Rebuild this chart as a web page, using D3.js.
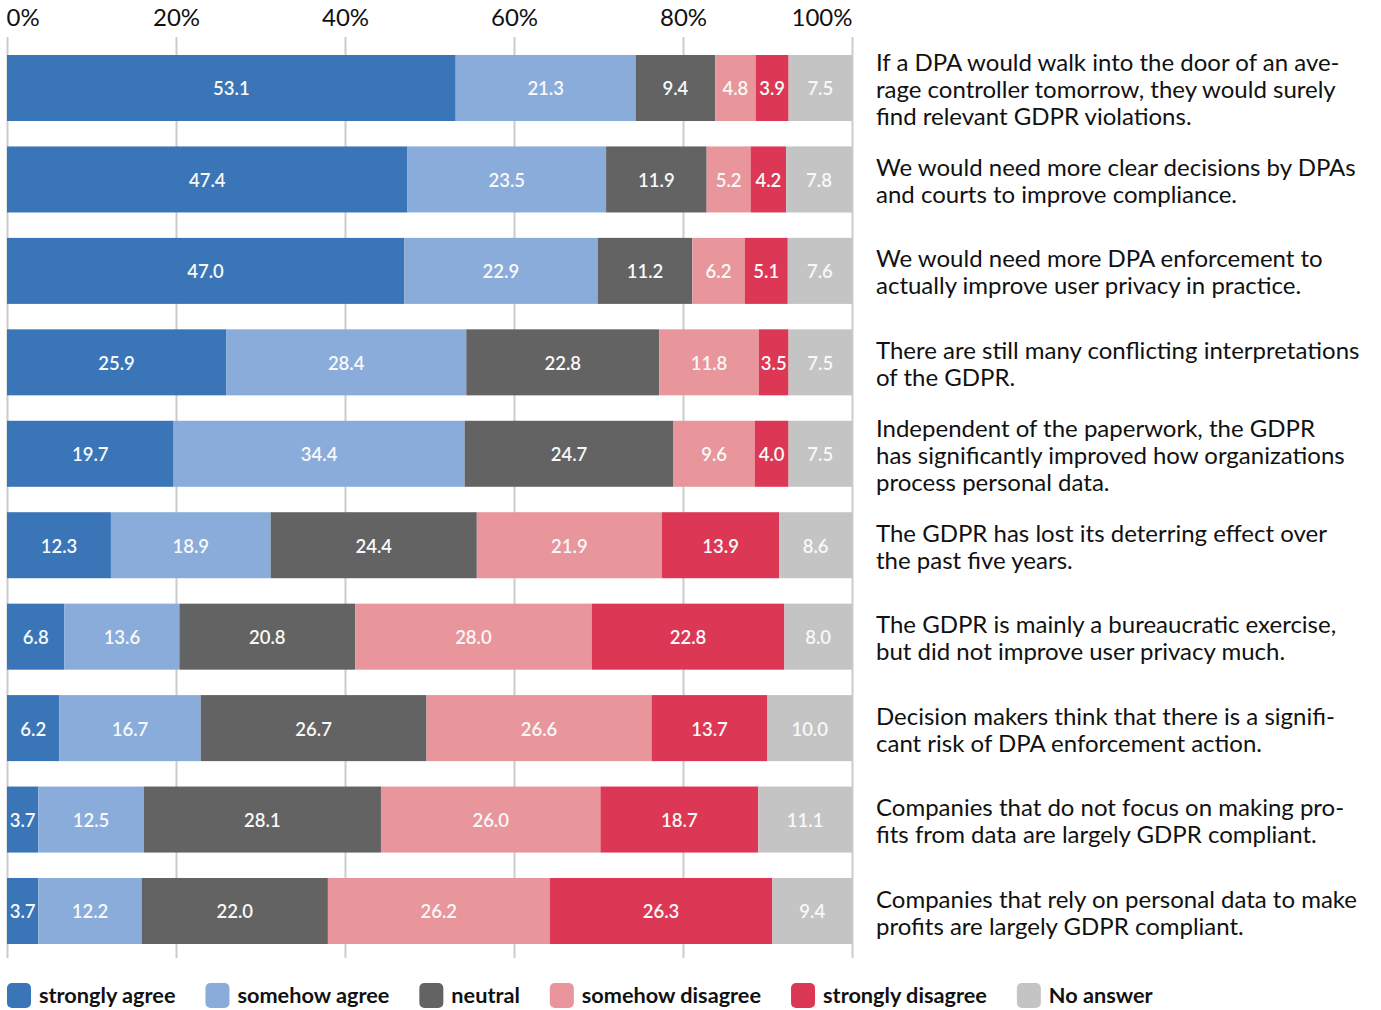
<!DOCTYPE html>
<html>
<head>
<meta charset="utf-8">
<script src="https://cdn.jsdelivr.net/npm/d3@7"></script>
<style>
  body { margin: 0; background: #fff; }
  svg { display: block; font-family: Lato, "Open Sans", sans-serif; }
</style>
</head>
<body>
<div id="chart"></div>
<script>
'use strict';

// statements, already hyphenated / broken as in the original
var statements = [
	['If a DPA would walk into the door of an ave-', 'rage controller tomorrow, they would surely', 'find relevant GDPR violations.'],
	['We would need more clear decisions by DPAs', 'and courts to improve compliance.'],
	['We would need more DPA enforcement to', 'actually improve user privacy in practice.'],
	['There are still many conflicting interpretations', 'of the GDPR.'],
	['Independent of the paperwork, the GDPR', 'has significantly improved how organizations', 'process personal data.'],
	['The GDPR has lost its deterring effect over', 'the past five years.'],
	['The GDPR is mainly a bureaucratic exercise,', 'but did not improve user privacy much.'],
	['Decision makers think that there is a signifi-', 'cant risk of DPA enforcement action.'],
	['Companies that do not focus on making pro-', 'fits from data are largely GDPR compliant.'],
	['Companies that rely on personal data to make', 'profits are largely GDPR compliant.']
];

var categories = ['strongly agree', 'somehow agree', 'neutral', 'somehow disagree', 'strongly disagree', 'No answer'];

var stronglyAgree    = [53.1, 47.4, 47.0, 25.9, 19.7, 12.3, 6.8, 6.2, 3.7, 3.7];
var somehowAgree     = [21.3, 23.5, 22.9, 28.4, 34.4, 18.9, 13.6, 16.7, 12.5, 12.2];
var neutral          = [9.4, 11.9, 11.2, 22.8, 24.7, 24.4, 20.8, 26.7, 28.1, 22.0];
var somehowDisagree  = [4.8, 5.2, 6.2, 11.8, 9.6, 21.9, 28.0, 26.6, 26.0, 26.2];
var stronglyDisagree = [3.9, 4.2, 5.1, 3.5, 4.0, 13.9, 22.8, 13.7, 18.7, 26.3];
var noAnswer         = [7.5, 7.8, 7.6, 7.5, 7.5, 8.6, 8.0, 10.0, 11.1, 9.4];

var tickValues = [0, 0.2, 0.4, 0.6, 0.8, 1];

var colors = ['#3a75b8', '#8aacdb', '#636363', '#e8969b', '#dc3855', '#c4c4c4'];

var series = [stronglyAgree, somehowAgree, neutral, somehowDisagree, stronglyDisagree, noAnswer];

var rows = statements.map(function(s, i){
	var r = { idx: i };
	categories.forEach(function(c, j){ r[c] = series[j][i]; });
	return r;
});

var width = 1381, height = 1010;
var margin = {left: 7, right: 529, top: 55, bottom: 66};

var x = d3.scaleLinear().domain([0, 1]).range([margin.left, width - margin.right]);
var y = d3.scaleBand()
	.domain(d3.range(rows.length))
	.range([margin.top, height - margin.bottom])
	.paddingInner(0.278)
	.paddingOuter(0);

var color = d3.scaleOrdinal().domain(categories).range(colors);

var stack = d3.stack().keys(categories).offset(d3.stackOffsetExpand);
var stacked = stack(rows);

var svg = d3.select('#chart').append('svg')
	.attr('width', width)
	.attr('height', height);

// grid lines + top labels
var axis = d3.axisTop(x)
	.tickValues(tickValues)
	.tickFormat(d3.format('.0%'))
	.tickSize(-(958 - 37))
	.tickPadding(11);

var gAxis = svg.append('g')
	.attr('transform', 'translate(0,37)')
	.call(axis);
gAxis.select('.domain').remove();
gAxis.selectAll('.tick line')
	.attr('stroke', '#cccccc')
	.attr('stroke-width', 2);
gAxis.selectAll('.tick text')
	.attr('fill', '#111')
	.style('font-size', '24px')
	.style('font-family', 'Lato')
	.attr('text-anchor', function(d){ return d === 0 ? 'start' : (d === 1 ? 'end' : 'middle'); })
	.attr('dx', function(d){ return d === 0 ? -1 : 0; });

// bars
var layer = svg.append('g').selectAll('g.layer')
	.data(stacked)
	.join('g')
		.attr('class', 'layer')
		.attr('fill', function(d){ return color(d.key); });

layer.selectAll('rect')
	.data(function(d){ return d; })
	.join('rect')
		.attr('x', function(d){ return x(d[0]); })
		.attr('y', function(d){ return y(d.data.idx); })
		.attr('width', function(d){ return x(d[1]) - x(d[0]); })
		.attr('height', y.bandwidth());

layer.selectAll('text')
	.data(function(d){ return d.map(function(v){ v.key = d.key; return v; }); })
	.join('text')
		.attr('x', function(d){ return (x(d[0]) + x(d[1]))/2; })
		.attr('y', function(d){ return y(d.data.idx) + y.bandwidth()/2; })
		.attr('dy', '0.4em')
		.attr('text-anchor', 'middle')
		.attr('fill', '#f8f8f8')
		.style('font-size', '18.5px')
		.style('font-weight', 600)
		.text(function(d){ return d.data[d.key].toFixed(1); });

// statements on the right
var lh = 27;
var labels = svg.append('g').selectAll('text.stmt')
	.data(statements)
	.join('text')
		.attr('class', 'stmt')
		.attr('x', 876)
		.attr('y', function(d, i){ return y(i) + y.bandwidth()/2 - (d.length - 1)*lh/2; })
		.attr('fill', '#111')
		.style('font-size', '24px');

labels.selectAll('tspan')
	.data(function(d){ return d; })
	.join('tspan')
		.attr('x', 876)
		.attr('dy', function(d, i){ return i === 0 ? '0.42em' : lh; })
		.text(function(d){ return d; });

// legend
var legend = svg.append('g').attr('transform', 'translate(7,983)');
var lx = 0;
categories.forEach(function(c){
	var g = legend.append('g').attr('transform', 'translate(' + lx + ',0)');
	g.append('rect')
		.attr('width', 24).attr('height', 25)
		.attr('rx', 5)
		.attr('fill', color(c));
	var t = g.append('text')
		.attr('x', 32).attr('y', 12.5)
		.attr('dy', '0.36em')
		.attr('fill', '#111')
		.style('font-size', '21.7px')
		.style('font-weight', 700)
		.text(c);
	lx += 32 + t.node().getComputedTextLength() + 30;
});
</script>
</body>
</html>
